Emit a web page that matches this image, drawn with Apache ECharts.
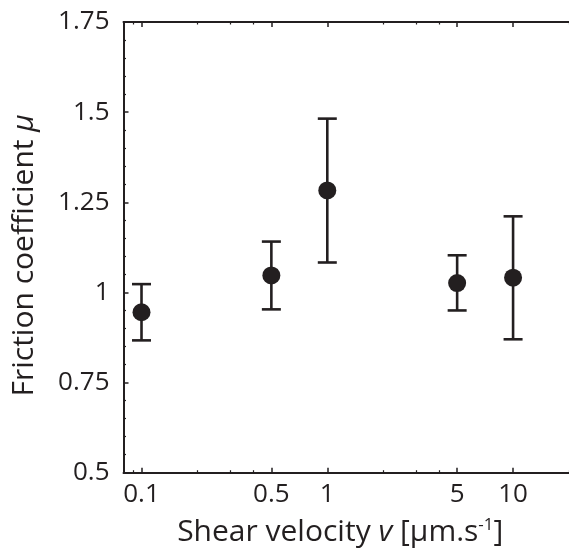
<!DOCTYPE html>
<html>
<head>
<meta charset="utf-8">
<script src="https://cdn.jsdelivr.net/npm/echarts@6/dist/echarts.min.js"></script>
<style>html,body{margin:0;padding:0;background:#fff}#c{width:569px;height:554px}</style>
</head>
<body>
<div id="c"></div>
<script>
// Data
var velocity = [0.1, 0.5, 1, 5, 10];
var mu = [0.945, 1.047, 1.283, 1.026, 1.041];
var muLow = [0.867, 0.953, 1.083, 0.950, 0.870];
var muHigh = [1.023, 1.141, 1.482, 1.103, 1.211];
var xMajorTicks = [0.1, 0.5, 1, 5, 10];
var xMinorTicks = [0.09, 0.2, 0.3, 0.4, 2, 3, 4, 20];
var yTickLabels = [0.5, 0.75, 1, 1.25, 1.5, 1.75];

var INK = '#231f20';
var FONT = '"Open Sans", "Noto Sans", sans-serif';
var X_MIN = 0.08, X_MAX = 20;

function fmt(v) {
  var r = Math.round(v * 1000) / 1000;
  return String(r);
}

function xAx(opts) {
  return Object.assign({
    type: 'log', min: X_MIN, max: X_MAX, gridIndex: 0,
    splitLine: { show: false }, minorTick: { show: false }, minorSplitLine: { show: false }
  }, opts);
}

var chart = echarts.init(document.getElementById('c'), null, { renderer: 'canvas' });
var option = {
  animation: false,
  backgroundColor: '#fff',
  grid: { left: 123.5, top: 22, bottom: 81.3, right: -5.3, containLabel: false },
  xAxis: [
    xAx({
      position: 'bottom',
      axisLine: { show: true, lineStyle: { color: INK, width: 2 } },
      axisTick: { show: true, inside: true, length: 5, customValues: xMajorTicks, lineStyle: { color: INK, width: 1.5 } },
      axisLabel: { show: true, customValues: xMajorTicks, formatter: fmt, color: INK, fontFamily: FONT, fontSize: 26, margin: 9 },
      name: '{t|Shear velocity }{i|v}{t| [µm.s}{s|-1}{t|]}',
      nameLocation: 'middle', nameGap: 44,
      nameTextStyle: {
        padding: [0, 12, 0, 0],
        rich: {
          t: { fontFamily: FONT, fontSize: 30, color: INK },
          i: { fontFamily: FONT, fontSize: 30, color: INK, fontStyle: 'italic' },
          s: { fontFamily: FONT, fontSize: 17, color: INK, verticalAlign: 'top', padding: [0, 0, 14, 0] }
        }
      }
    }),
    xAx({
      position: 'bottom',
      axisLine: { show: false },
      axisTick: { show: true, inside: true, length: 2.5, customValues: xMinorTicks, lineStyle: { color: INK, width: 1.2 } },
      axisLabel: { show: false }
    }),
    xAx({
      position: 'top',
      axisLine: { show: true, lineStyle: { color: INK, width: 2 } },
      axisTick: { show: true, inside: true, length: 5, customValues: xMajorTicks, lineStyle: { color: INK, width: 1.5 } },
      axisLabel: { show: false }
    }),
    xAx({
      position: 'top',
      axisLine: { show: false },
      axisTick: { show: true, inside: true, length: 2.5, customValues: xMinorTicks, lineStyle: { color: INK, width: 1.2 } },
      axisLabel: { show: false }
    })
  ],
  yAxis: [
    {
      type: 'value', min: 0.5, max: 1.75, interval: 0.25, position: 'left',
      splitLine: { show: false },
      axisLine: { show: true, lineStyle: { color: INK, width: 2 } },
      axisTick: { show: true, inside: true, length: 5, lineStyle: { color: INK, width: 1.5 } },
      minorTick: { show: true, splitNumber: 5, length: 2.5, lineStyle: { color: INK, width: 1.2 } },
      axisLabel: {
        customValues: yTickLabels,
        color: INK, fontFamily: FONT, fontSize: 26, margin: 14, formatter: fmt
      },
      name: '{t|Friction coefficient }{i|μ}',
      nameLocation: 'middle', nameGap: 84,
      nameTextStyle: {
        padding: [0, 16, 0, 0],
        rich: {
          t: { fontFamily: FONT, fontSize: 30, color: INK },
          i: { fontFamily: FONT, fontSize: 30, color: INK, fontStyle: 'italic' }
        }
      }
    }
  ],
  series: [
    {
      type: 'custom',
      xAxisIndex: 0, yAxisIndex: 0,
      data: velocity.map(function (v, i) { return [v, muLow[i], muHigh[i]]; }),
      renderItem: function (params, api) {
        var lo = api.coord([api.value(0), api.value(1)]);
        var hi = api.coord([api.value(0), api.value(2)]);
        var hw = 9.5;
        var st = { stroke: INK, lineWidth: 2.6 };
        return {
          type: 'group',
          children: [
            { type: 'line', shape: { x1: lo[0], y1: lo[1], x2: hi[0], y2: hi[1] }, style: st },
            { type: 'line', shape: { x1: lo[0] - hw, y1: lo[1], x2: lo[0] + hw, y2: lo[1] }, style: st },
            { type: 'line', shape: { x1: hi[0] - hw, y1: hi[1], x2: hi[0] + hw, y2: hi[1] }, style: st }
          ]
        };
      },
      z: 2
    },
    {
      type: 'scatter',
      xAxisIndex: 0, yAxisIndex: 0,
      data: velocity.map(function (v, i) { return [v, mu[i]]; }),
      symbol: 'circle', symbolSize: 18,
      itemStyle: { color: INK, opacity: 1 },
      z: 3
    }
  ]
};
chart.setOption(option);
</script>
</body>
</html>
